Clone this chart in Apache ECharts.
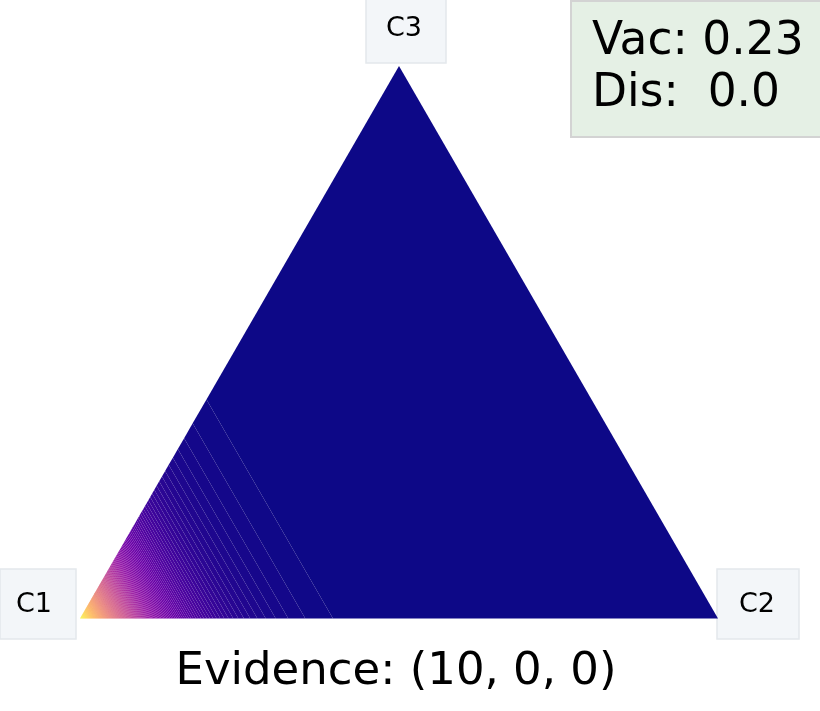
<!DOCTYPE html>
<html><head><meta charset="utf-8">
<script src="https://cdn.jsdelivr.net/npm/echarts@6/dist/echarts.min.js"></script>
<style>html,body{margin:0;padding:0;background:#fff}#c{width:820px;height:711px}</style>
</head><body><div id="c"></div>
<script>
// ---- data ----
const classNames = ['C1', 'C2', 'C3'];
const evidence = [10, 0, 0];
const vacuityText = '0.23';
const dissonanceText = '0.0';
const levelStep = 0.846;          // density spacing between filled contour levels

// ---- Dirichlet density (alpha = evidence + 1) ----
const alpha = evidence.map(e => e + 1);
function lgammaInt(n) { let s = 0; for (let i = 2; i < n; i++) s += Math.log(i); return s; } // log((n-1)!)
const S = alpha.reduce((a, b) => a + b, 0);
const coef = Math.exp(lgammaInt(S) - alpha.reduce((a, b) => a + lgammaInt(b), 0));
// alpha2 = alpha3 = 1 -> density depends only on x1: coef * x1^(alpha1-1)
const nBands = Math.ceil(coef / levelStep);
const bandBounds = [];
for (let k = 0; k <= nBands; k++) {
  const v = Math.min(k * levelStep, coef);
  bandBounds.push(Math.pow(v / coef, 1 / (alpha[0] - 1)));
}
const bands = [];
for (let k = 0; k < nBands; k++) bands.push([bandBounds[k], bandBounds[k + 1], k]);

// ---- plasma colormap ----
const plasma = ['#0d0887','#41049d','#6a00a8','#8f0da4','#b12a90','#cc4778','#e16462','#f2844b','#fca636','#fcce25','#f0f921'];
function hex2rgb(h){return [parseInt(h.substr(1,2),16),parseInt(h.substr(3,2),16),parseInt(h.substr(5,2),16)];}
const plasmaRGB = plasma.map(hex2rgb);
function cmap(t){
  t = Math.max(0, Math.min(1, t));
  const p = t * (plasmaRGB.length - 1);
  const i = Math.min(Math.floor(p), plasmaRGB.length - 2);
  const f = p - i;
  const a = plasmaRGB[i], b = plasmaRGB[i + 1];
  return 'rgb(' + [0,1,2].map(j => Math.round(a[j] + (b[j] - a[j]) * f)).join(',') + ')';
}

const H = Math.sqrt(3) / 2;
const chart = echarts.init(document.getElementById('c'), null, {renderer: 'canvas'});
const font = 'DejaVu Sans';
function labelBox(x, y, w, h, tx, ty, txt) {
  return {
    type: 'group', children: [
      {type: 'rect', shape: {x: x, y: y, width: w, height: h}, style: {fill: '#f3f6f9', stroke: '#e3e8ec', lineWidth: 1.5}},
      {type: 'text', x: tx, y: ty, style: {text: txt, fontFamily: font, fontSize: 27, fill: '#000', align: 'center', verticalAlign: 'middle'}}
    ]
  };
}
chart.setOption({
  animation: false,
  backgroundColor: '#ffffff',
  grid: {left: 80, top: 66, width: 638, height: 552.5},
  xAxis: {type: 'value', min: 0, max: 1, show: false},
  yAxis: {type: 'value', min: 0, max: H, show: false},
  series: [{
    type: 'custom',
    silent: true,
    data: bands,
    renderItem: function (params, api) {
      const lo = api.value(0), hi = api.value(1), k = api.value(2);
      const pt = (x1, x2, x3) => api.coord([x2 + 0.5 * x3, H * x3]);
      const pts = [pt(lo, 1 - lo, 0), pt(hi, 1 - hi, 0), pt(hi, 0, 1 - hi), pt(lo, 0, 1 - lo)];
      return {type: 'polygon', shape: {points: pts}, style: {fill: cmap(k / (nBands - 1))}};
    }
  }],
  graphic: [
    labelBox(366, -2, 80, 65, 404, 29, classNames[2]),
    labelBox(0, 569, 76, 70, 34, 605, classNames[0]),
    labelBox(717, 569, 82, 70, 757, 605, classNames[1]),
    {type: 'rect', shape: {x: 571, y: 1, width: 260, height: 136}, style: {fill: '#e5f0e5', stroke: '#d3d3d3', lineWidth: 2}},
    {type: 'text', x: 592, y: 42.5, style: {text: 'Vac: ' + vacuityText, fontFamily: font, fontSize: 45.5, fill: '#000', align: 'left', verticalAlign: 'middle'}},
    {type: 'text', x: 592, y: 94.5, style: {text: 'Dis:  ' + dissonanceText, fontFamily: font, fontSize: 45.5, fill: '#000', align: 'left', verticalAlign: 'middle'}},
    {type: 'text', x: 396, y: 672, style: {text: 'Evidence: (' + evidence.join(', ') + ')', fontFamily: font, fontSize: 45, fill: '#000', align: 'center', verticalAlign: 'middle'}}
  ]
});
</script></body></html>
